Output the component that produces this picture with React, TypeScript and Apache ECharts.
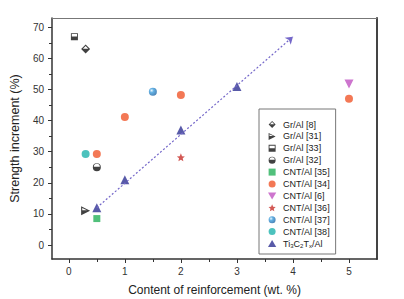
import React, { useEffect, useRef } from "react";
import * as echarts from "echarts";

// ---- data (wt.% , strength increment %) ----
const grAl8 = [[0.3, 63]];
const grAl31 = [[0.3, 11]];
const grAl33 = [[0.1, 67]];
const grAl32 = [[0.5, 25]];
const cntAl35 = [[0.5, 8.5]];
const cntAl34 = [[0.5, 29.3], [1, 41.2], [2, 48.2], [5, 47]];
const cntAl6 = [[5, 51.8]];
const cntAl36 = [[2, 28.2]];
const cntAl37 = [[1.5, 49.3]];
const cntAl38 = [[0.3, 29.3]];
const tiX = [0.5, 1, 2, 3];
const tiY = [12, 21, 37, 51];
const trendStart = [0.5, 12];
const trendEnd = [4, 67];

const xMajor = [0, 1, 2, 3, 4, 5];
const xMinor = [0.5, 1.5, 2.5, 3.5, 4.5];
const yMajor = [0, 10, 20, 30, 40, 50, 60, 70];
const yMinor = [5, 15, 25, 35, 45, 55, 65];

const TI_NAME = "Ti3C2Tx/Al";

// half-filled symbols (outer shape filled, top-half hole with opposite winding)
const halfCircle =
  "path://M0,10 A10,10 0 1,1 20,10 A10,10 0 1,1 0,10 Z M2.5,9 L17.5,9 A7.5,7.5 0 0,0 2.5,9 Z";
const halfDiamond = "path://M10,0 L20,10 L10,20 L0,10 Z M10,3 L4,9 L16,9 Z";
const halfSquare =
  "path://M0,0 L20,0 L20,20 L0,20 Z M2.5,2.5 L2.5,9.5 L17.5,9.5 L17.5,2.5 Z";
const halfRightTri = "path://M0,0 L20,10 L0,20 Z M2.5,4 L2.5,9 L13,9 Z";
const star =
  "path://M10,0 L12.9,6.9 L20,7.6 L14.6,12.3 L16.2,19.5 L10,15.8 L3.8,19.5 L5.4,12.3 L0,7.6 L7.1,6.9 Z";
const square = "path://M0,0 L20,0 L20,20 L0,20 Z";
const downTri = "path://M0,0 L20,0 L10,17 Z";
const upTri = "path://M10,0 L20,17 L0,17 Z";
const dot = "path://M0,10 A10,10 0 1,1 20,10 A10,10 0 1,1 0,10 Z";

export default function App() {
  const ref = useRef<HTMLDivElement>(null);

  useEffect(() => {
    if (!ref.current) return;
    const chart = echarts.init(ref.current, undefined, { renderer: "svg" });
    const font = "Liberation Sans, Arial, sans-serif";
    const axisColor = "#333";

    const sc = (name: string, data: number[][], symbol: string, size: number | number[], color: any) => ({
      type: "scatter",
      name,
      data,
      symbol,
      symbolSize: size,
      itemStyle: { color },
      z: 3,
    });

    const tiData = tiX.map((x, i) => [x, tiY[i]]);

    const option: any = {
      animation: false,
      backgroundColor: "#fff",
      textStyle: { fontFamily: font },
      grid: {
        left: 52,
        top: 18,
        width: 325,
        height: 241,
        containLabel: false,
        outerBoundsMode: "none",
      },
      xAxis: [
        {
          type: "value",
          position: "bottom",
          min: -0.3,
          max: 5.5,
          axisLine: { show: true, onZero: false, lineStyle: { color: axisColor, width: 1.5 } },
          axisTick: { show: true, customValues: xMajor, length: 4, lineStyle: { color: axisColor, width: 1 } },
          axisLabel: { customValues: xMajor, fontSize: 10, color: "#333", margin: 7, fontFamily: font },
          splitLine: { show: false },
          name: "Content of reinforcement (wt. %)",
          nameLocation: "middle",
          nameGap: 25,
          nameTextStyle: { fontSize: 12, color: "#222", fontFamily: font },
        },
        {
          type: "value",
          position: "bottom",
          min: -0.3,
          max: 5.5,
          axisLine: { show: false, onZero: false },
          axisTick: { show: true, customValues: xMinor, length: 3, lineStyle: { color: axisColor, width: 1 } },
          axisLabel: { show: false },
          splitLine: { show: false },
        },
        {
          type: "value",
          position: "top",
          min: -0.3,
          max: 5.5,
          axisLine: { show: true, onZero: false, lineStyle: { color: "#777", width: 1 } },
          axisTick: { show: false },
          axisLabel: { show: false },
          splitLine: { show: false },
        },
      ],
      yAxis: [
        {
          type: "value",
          position: "left",
          min: -4.5,
          max: 73,
          axisLine: { show: true, onZero: false, lineStyle: { color: axisColor, width: 1.5 } },
          axisTick: { show: true, customValues: yMajor, length: 4, lineStyle: { color: axisColor, width: 1 } },
          axisLabel: { customValues: yMajor, fontSize: 10, color: "#333", margin: 8, fontFamily: font },
          splitLine: { show: false },
          name: "Strength increment (%)",
          nameLocation: "middle",
          nameGap: 25,
          nameTextStyle: { fontSize: 12.5, color: "#222", fontFamily: font },
        },
        {
          type: "value",
          position: "left",
          min: -4.5,
          max: 73,
          axisLine: { show: false, onZero: false },
          axisTick: { show: true, customValues: yMinor, length: 3, lineStyle: { color: axisColor, width: 1 } },
          axisLabel: { show: false },
          splitLine: { show: false },
        },
        {
          type: "value",
          position: "right",
          min: -4.5,
          max: 73,
          axisLine: { show: true, onZero: false, lineStyle: { color: "#444", width: 2 } },
          axisTick: { show: false },
          axisLabel: { show: false },
          splitLine: { show: false },
        },
      ],
      legend: {
        orient: "vertical",
        left: 259,
        top: 109,
        width: 74,
        backgroundColor: "#fff",
        borderColor: "#777",
        borderWidth: 1,
        borderRadius: 0,
        padding: [11, 6, 5, 9],
        itemWidth: 12,
        itemHeight: 7,
        itemGap: 2.9,
        textStyle: {
          fontSize: 9,
          lineHeight: 9,
          color: "#222",
          fontFamily: font,
          rich: {
            n: { fontSize: 9, color: "#222", fontFamily: font },
            s: { fontSize: 6, color: "#222", fontFamily: font, padding: [5, 0, 0, 0] },
          },
        },
        formatter: (name: string) =>
          name === TI_NAME ? "{n|Ti}{s|3}{n|C}{s|2}{n|T}{s|x}{n|/Al}" : name,
        data: [
          { name: "Gr/Al [8]", icon: halfDiamond },
          { name: "Gr/Al [31]", icon: halfRightTri },
          { name: "Gr/Al [33]", icon: halfSquare },
          { name: "Gr/Al [32]", icon: halfCircle },
          { name: "CNT/Al [35]", icon: square },
          { name: "CNT/Al [34]", icon: dot },
          { name: "CNT/Al [6]", icon: downTri },
          { name: "CNT/Al [36]", icon: star },
          { name: "CNT/Al [37]", icon: dot },
          { name: "CNT/Al [38]", icon: dot },
          { name: TI_NAME, icon: upTri },
        ],
      },
      series: [
        sc("Gr/Al [8]", grAl8, halfDiamond, 9, "#111"),
        sc("Gr/Al [31]", grAl31, halfRightTri, 9, "#111"),
        sc("Gr/Al [33]", grAl33, halfSquare, 7, "#111"),
        sc("Gr/Al [32]", grAl32, halfCircle, 8, "#111"),
        sc("CNT/Al [35]", cntAl35, square, 7, "#25b05a"),
        sc("CNT/Al [34]", cntAl34, dot, 8, "#f0562a"),
        sc("CNT/Al [6]", cntAl6, downTri, 9, "#c153c2"),
        sc("CNT/Al [36]", cntAl36, star, 8, "#c8302a"),
        sc("CNT/Al [37]", cntAl37, dot, 8, {
          type: "radial",
          x: 0.35,
          y: 0.35,
          r: 0.75,
          colorStops: [
            { offset: 0, color: "#e6f6ff" },
            { offset: 0.35, color: "#3d9ddc" },
            { offset: 1, color: "#1b5f9e" },
          ],
        }),
        sc("CNT/Al [38]", cntAl38, dot, 8, "#1fb3ad"),
        {
          type: "scatter",
          name: TI_NAME,
          data: tiData,
          symbol: upTri,
          symbolSize: 9,
          itemStyle: { color: "#2e3192" },
          z: 4,
          markLine: {
            silent: true,
            symbol: ["none", "arrow"],
            symbolSize: 7,
            label: { show: false },
            lineStyle: { color: "#7467c9", type: [2, 2], width: 1.2 },
            data: [[{ coord: trendStart }, { coord: trendEnd }]],
          },
        },
      ],
    };

    chart.setOption(option);
    return () => chart.dispose();
  }, []);

  return (
    <div
      ref={ref}
      style={{ position: "fixed", left: 0, top: 0, width: 404, height: 299, background: "#fff" }}
    />
  );
}
